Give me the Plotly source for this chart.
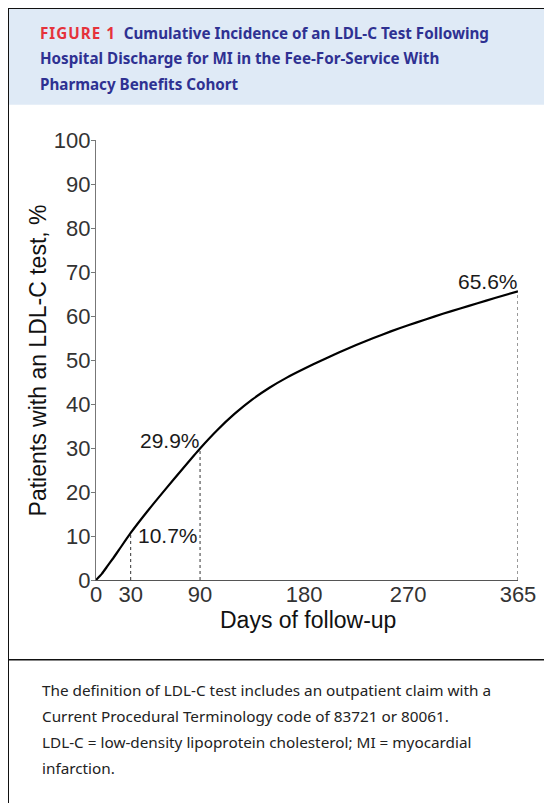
import plotly.graph_objects as go

# ---- data ----
days = [0, 5, 10, 15, 20, 30, 45, 60, 75, 90, 105, 120, 135, 150, 165, 180, 195, 210,
        225, 240, 255, 270, 285, 300, 315, 330, 345, 365]
incidence = [0, 1.4, 3.2, 5.0, 6.9, 10.7, 15.8, 20.6, 25.3, 29.9, 34.1, 37.8, 41.0, 43.7,
             46.0, 48.0, 49.9, 51.7, 53.4, 55.0, 56.5, 57.9, 59.2, 60.5, 61.7, 62.9, 64.1, 65.6]

mark_days = [30, 90, 365]
mark_vals = [10.7, 29.9, 65.6]
mark_labels = ["10.7%", "29.9%", "65.6%"]

x_ticks = [0, 30, 90, 180, 270, 365]
y_ticks = [0, 10, 20, 30, 40, 50, 60, 70, 80, 90, 100]

x_title = "Days of follow-up"
y_title = "Patients with an LDL-C test, %"

title_lines = [
    "<span style='color:#e5323b;letter-spacing:1px'>FIGURE 1</span>&nbsp;&nbsp;Cumulative Incidence of an LDL-C Test Following",
    "Hospital Discharge for MI in the Fee-For-Service With",
    "Pharmacy Benefits Cohort",
]
caption_lines = [
    "The definition of LDL-C test includes an outpatient claim with a",
    "Current Procedural Terminology code of 83721 or 80061.",
    "LDL-C = low-density lipoprotein cholesterol; MI = myocardial",
    "infarction.",
]

# ---- layout geometry (page coordinates; page has an 8px body margin) ----
OFF = 8
W, H = 552 - OFF, 803 - OFF
L, R = 96.3 - OFF, 518.3 - OFF
T, B = 140.3 - OFF, 580.3 - OFF
PW, PH = R - L, B - T


def px(x):
    return (x - OFF - L) / PW


def py(y):
    return (B - (y - OFF)) / PH


fig = go.Figure()

fig.add_trace(go.Scatter(
    x=days, y=incidence, mode="lines",
    line=dict(color="#000000", width=2.2, shape="spline", smoothing=0.5),
    hoverinfo="skip", showlegend=False,
))

dx, dy = [], []
for d, v in zip(mark_days, mark_vals):
    dx += [d, d, None]
    dy += [0, v, None]
fig.add_trace(go.Scatter(
    x=dx, y=dy, mode="lines",
    line=dict(color="#333333", width=1, dash="3px,3px"),
    hoverinfo="skip", showlegend=False,
))

ann_font = dict(family="Liberation Sans, Arial", size=21, color="#1a1a1a")
anchors = [("left", "middle", 5, -3), ("right", "bottom", 2, -6), ("right", "bottom", 2, -4)]
for (d, v, lab), (xa, ya, xs, ys) in zip(zip(mark_days, mark_vals, mark_labels), anchors):
    fig.add_annotation(x=d, y=v, text=lab, showarrow=False, xanchor=xa, yanchor=ya,
                       xshift=xs, yshift=ys, font=ann_font)

# axis titles
fig.add_annotation(xref="paper", yref="paper", x=px(308), y=py(620), text=x_title,
                   showarrow=False, xanchor="center", yanchor="middle",
                   font=dict(family="Liberation Sans, Arial", size=23, color="#111111"))
fig.add_annotation(xref="paper", yref="paper", x=px(38), y=py(361), text=y_title,
                   showarrow=False, xanchor="center", yanchor="middle", textangle=-90,
                   font=dict(family="Liberation Sans, Arial", size=23, color="#111111"))

shapes = []
# header box
shapes.append(dict(type="rect", xref="paper", yref="paper",
                   x0=px(8.5), x1=px(570), y0=py(105), y1=py(8.6),
                   fillcolor="#dfeaf6", line=dict(width=0), layer="below"))
# frame lines
shapes.append(dict(type="line", xref="paper", yref="paper",
                   x0=px(8), x1=px(570), y0=py(8.6), y1=py(8.6),
                   line=dict(color="#111111", width=1.4)))
shapes.append(dict(type="line", xref="paper", yref="paper",
                   x0=px(8.6), x1=px(8.6), y0=py(8), y1=py(820),
                   line=dict(color="#111111", width=1.4)))
shapes.append(dict(type="line", xref="paper", yref="paper",
                   x0=px(8), x1=px(570), y0=py(660), y1=py(660),
                   line=dict(color="#111111", width=1.4)))

for i, line in enumerate(title_lines):
    fig.add_annotation(xref="paper", yref="paper", x=px(38), y=py(33 + i * 25.5),
                       text="<b>" + line + "</b>", showarrow=False,
                       xanchor="left", yanchor="middle", align="left",
                       font=dict(family="Noto Sans", size=15.2, color="#2e3192"))

for i, line in enumerate(caption_lines):
    fig.add_annotation(xref="paper", yref="paper", x=px(40), y=py(690 + i * 26),
                       text=line, showarrow=False,
                       xanchor="left", yanchor="middle", align="left",
                       font=dict(family="Noto Sans", size=15.3, color="#222222"))

fig.update_layout(
    width=W, height=H,
    margin=dict(l=L, r=W - R, t=T, b=H - B, pad=0),
    paper_bgcolor="white", plot_bgcolor="white",
    shapes=shapes,
    xaxis=dict(range=[0, 365], tickvals=x_ticks, ticktext=[str(t) for t in x_ticks],
               showline=True, linecolor="#555555", linewidth=1.2, ticks="",
               ticklabelstandoff=-6,
               showgrid=False, zeroline=False,
               tickfont=dict(family="Liberation Sans, Arial", size=22, color="#333333")),
    yaxis=dict(range=[0, 100], tickvals=y_ticks,
               showline=True, linecolor="#777777", linewidth=1.2,
               ticks="outside", ticklen=4, tickcolor="#777777",
               ticklabelstandoff=-4,
               showgrid=False, zeroline=False,
               tickfont=dict(family="Liberation Sans, Arial", size=22, color="#333333")),
)

fig.write_html("out.html")
